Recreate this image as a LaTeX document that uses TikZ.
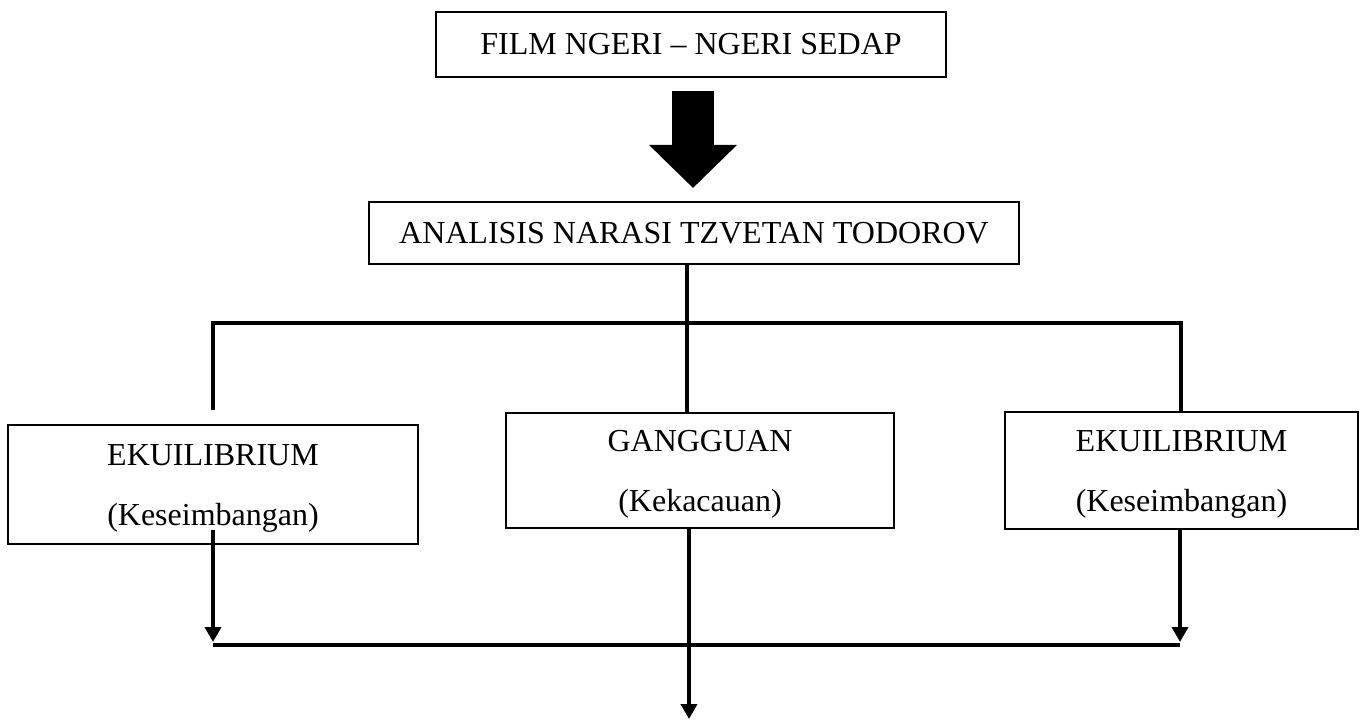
\documentclass[tikz,border=0pt]{standalone}
\usepackage{fontspec}
\setmainfont{Liberation Serif}
\usetikzlibrary{arrows.meta,calc}
\begin{document}
\begin{tikzpicture}[x=1pt,y=-1pt,
  box/.style={draw, line width=2.2pt, inner sep=0pt, align=center,
    font=\fontsize{32}{60}\selectfont},
  conn/.style={line width=3.8pt},
  tip/.style={-{Triangle[width=16pt,length=15pt]}},
  bigarrow/.style={line width=42pt, -{Triangle[width=88pt,length=43pt,line width=0pt]}}]
\useasboundingbox (0,0) rectangle (1365,720);
% boxes
\node[box, minimum width=510pt, minimum height=65pt] (A) at (691,44.5) {FILM NGERI – NGERI SEDAP};
\node[box, minimum width=650pt, minimum height=62pt] (B) at (694,233) {ANALISIS NARASI TZVETAN TODOROV};
\node[box, minimum width=410pt, minimum height=119pt] (L) at (213,484.5) {\rule{0pt}{29pt}EKUILIBRIUM\\(Keseimbangan)};
\node[box, minimum width=388pt, minimum height=115pt] (C) at (700,470.5) {\rule{0pt}{29pt}GANGGUAN\\(Kekacauan)};
\node[box, minimum width=353pt, minimum height=117pt] (R) at (1181.5,470.5) {\rule{0pt}{29pt}EKUILIBRIUM\\(Keseimbangan)};
% big arrow
\draw[bigarrow] ($(A.south)+(2,13)$) -- ($(B.north)+(-1,-13)$);
% junctions
\coordinate (J) at (687,323);
\coordinate (Jl) at (213,323);
\coordinate (Jr) at (1181,323);
\coordinate (Lt) at (213,410);
\coordinate (Bl) at (213,645);
\coordinate (Br) at (1180,645);
\coordinate (M) at (689,719);
% upper connectors
\draw[conn] (J |- B.south) -- (J);
\draw[conn] (Lt) -- (Jl) -- (Jr) -- (Jr |- R.north);
\draw[conn] (J) -- (J |- C.north);
% lower connectors
\draw[conn, tip] ($(Bl |- L.south)+(0,-15)$) -- ($(Bl)+(0,-3)$);
\draw[conn, tip] (Br |- R.south) -- ($(Br)+(0,-3)$);
\draw[conn] (Bl) -- (Br);
\draw[conn, tip] (M |- C.south) -- (M);
\end{tikzpicture}
\end{document}
